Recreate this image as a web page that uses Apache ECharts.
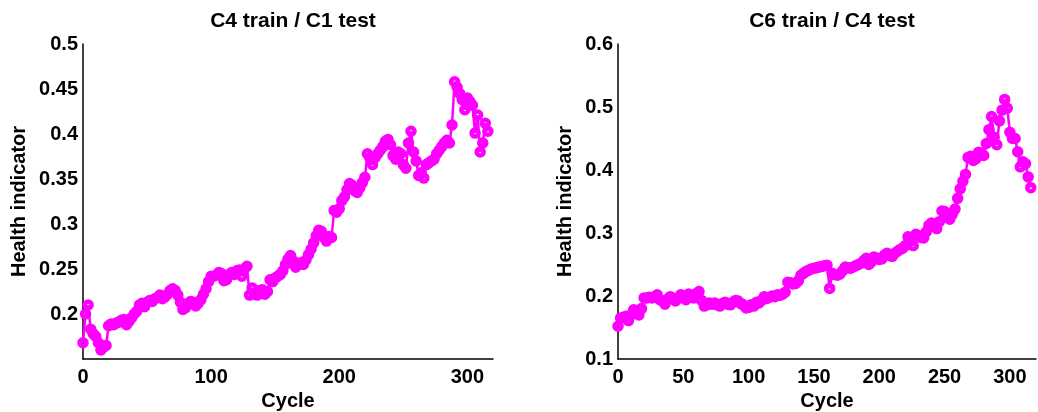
<!DOCTYPE html>
<html>
<head>
<meta charset="utf-8">
<script src="https://cdn.jsdelivr.net/npm/echarts@6/dist/echarts.min.js"></script>
<style>
html,body{margin:0;padding:0;background:#fff;}
#main{width:1038px;height:412px;}
</style>
</head>
<body>
<div id="main"></div>
<script>
var titles = ['C4 train / C1 test', 'C6 train / C4 test'];
var xName = 'Cycle';
var yName = 'Health indicator';
var cycleStep = 2;

// health indicator, one value every 2 cycles
var hiC4C1 = [
	0.168, 0.200, 0.210, 0.183, 0.178, 0.175, 0.168, 0.160, 0.163, 0.165,
	0.187, 0.189, 0.188, 0.190, 0.191, 0.193, 0.194, 0.188, 0.192, 0.196,
	0.200, 0.203, 0.210, 0.212, 0.208, 0.213, 0.215, 0.214, 0.217, 0.218,
	0.221, 0.217, 0.219, 0.222, 0.226, 0.228, 0.226, 0.221, 0.213, 0.205,
	0.207, 0.211, 0.214, 0.213, 0.209, 0.212, 0.216, 0.222, 0.228, 0.236,
	0.242, 0.242, 0.243, 0.246, 0.245, 0.237, 0.238, 0.244, 0.246, 0.244,
	0.248, 0.249, 0.242, 0.250, 0.253, 0.221, 0.229, 0.222, 0.221, 0.226,
	0.227, 0.222, 0.225, 0.238, 0.236, 0.240, 0.242, 0.244, 0.248, 0.255,
	0.261, 0.265, 0.259, 0.252, 0.255, 0.257, 0.255, 0.260, 0.266, 0.272,
	0.279, 0.287, 0.293, 0.292, 0.285, 0.281, 0.286, 0.285, 0.315, 0.313,
	0.317, 0.326, 0.330, 0.338, 0.345, 0.343, 0.337, 0.335, 0.340, 0.346,
	0.352, 0.378, 0.373, 0.366, 0.374, 0.378, 0.382, 0.386, 0.392, 0.394,
	0.388, 0.376, 0.372, 0.380, 0.378, 0.366, 0.362, 0.390, 0.403, 0.380,
	0.370, 0.354, 0.357, 0.351, 0.366, 0.368, 0.370, 0.372, 0.378, 0.382,
	0.386, 0.390, 0.393, 0.390, 0.410, 0.458, 0.452, 0.445, 0.438, 0.427,
	0.440, 0.436, 0.432, 0.401, 0.421, 0.380, 0.390, 0.412, 0.403
];
var hiC6C4 = [
	0.152, 0.165, 0.166, 0.168, 0.161, 0.170, 0.178, 0.174, 0.170, 0.180,
	0.197, 0.197, 0.198, 0.197, 0.199, 0.202, 0.194, 0.192, 0.187, 0.195,
	0.199, 0.196, 0.192, 0.196, 0.202, 0.199, 0.194, 0.203, 0.201, 0.197,
	0.204, 0.207, 0.193, 0.184, 0.186, 0.189, 0.187, 0.189, 0.186, 0.184,
	0.188, 0.190, 0.187, 0.186, 0.190, 0.193, 0.192, 0.188, 0.186, 0.181,
	0.182, 0.186, 0.184, 0.190, 0.189, 0.193, 0.199, 0.196, 0.198, 0.200,
	0.199, 0.202, 0.201, 0.203, 0.206, 0.222, 0.221, 0.219, 0.220, 0.224,
	0.233, 0.236, 0.239, 0.241, 0.243, 0.244, 0.245, 0.246, 0.247, 0.248,
	0.249, 0.212, 0.236, 0.234, 0.233, 0.235, 0.240, 0.246, 0.245, 0.244,
	0.246, 0.248, 0.250, 0.252, 0.256, 0.260, 0.250, 0.254, 0.262, 0.260,
	0.258, 0.259, 0.265, 0.268, 0.264, 0.263, 0.268, 0.271, 0.274, 0.276,
	0.280, 0.294, 0.290, 0.280, 0.298, 0.296, 0.293, 0.292, 0.302, 0.312,
	0.316, 0.312, 0.307, 0.318, 0.335, 0.334, 0.325, 0.322, 0.330, 0.338,
	0.355, 0.370, 0.382, 0.393, 0.420, 0.422, 0.415, 0.418, 0.428, 0.427,
	0.423, 0.442, 0.464, 0.485, 0.452, 0.440, 0.478, 0.495, 0.512, 0.498,
	0.460, 0.450, 0.450, 0.429, 0.405, 0.413, 0.410, 0.389, 0.372
];

var yMin = [0.15, 0.1];
var yMax = [0.5, 0.6];
var yStep = [0.05, 0.1];
var xStep = [100, 50];
var xMax = 320;

var magenta = '#ff00ff';
var fontFam = '"Liberation Sans", Arial, sans-serif';

function buildPoints(values) {
	var pts = [];
	for (var i = 0, len = values.length; i < len; i++) {
		pts.push([i * cycleStep, values[i]]);
	}
	return pts;
}

function axisText() {
	return { fontFamily: fontFam, fontSize: 20, fontWeight: 'bold', color: '#000' };
}

function buildOption() {
	var grids = [
		{ left: 83, right: 545, top: 44, bottom: 53, outerBoundsMode: 'none', containLabel: false },
		{ left: 618, right: 2, top: 44, bottom: 53, outerBoundsMode: 'none', containLabel: false }
	];
	var yGaps = [54, 43];
	var option = {
		animation: false,
		title: [],
		grid: grids,
		xAxis: [],
		yAxis: [],
		series: []
	};
	var allData = [hiC4C1, hiC6C4];
	for (var k = 0; k < 2; k++) {
		option.title.push({
			text: titles[k],
			left: k == 0 ? 288 : 827,
			top: 6,
			textAlign: 'center',
			textStyle: { fontFamily: fontFam, fontSize: 21, fontWeight: 'bold', color: '#000' }
		});
		option.xAxis.push({
			type: 'value',
			gridIndex: k,
			min: 0,
			max: xMax,
			interval: xStep[k],
			name: xName,
			nameLocation: 'middle',
			nameGap: 27,
			nameTextStyle: axisText(),
			axisLine: { show: true, lineStyle: { color: '#000', width: 1.5 } },
			axisTick: { show: false },
			splitLine: { show: false },
			axisLabel: Object.assign(axisText(), { margin: 8, showMaxLabel: false })
		});
		(function (kk) {
			option.yAxis.push({
				type: 'value',
				gridIndex: kk,
				min: yMin[kk],
				max: yMax[kk],
				interval: yStep[kk],
				name: yName,
				nameLocation: 'middle',
				nameGap: yGaps[kk],
				nameTextStyle: axisText(),
				axisLine: { show: true, lineStyle: { color: '#000', width: 1.5 } },
				axisTick: { show: false },
				splitLine: { show: false },
				axisLabel: Object.assign(axisText(), {
					margin: 5,
					formatter: function (v) {
						// first tick of the left panel has no label
						if (kk == 0 && v < 0.16) return '';
						return String(Math.round(v * 100) / 100);
					}
				})
			});
		})(k);
		option.series.push({
			type: 'line',
			xAxisIndex: k,
			yAxisIndex: k,
			data: buildPoints(allData[k]),
			symbol: 'circle',
			symbolSize: 7,
			showAllSymbol: true,
			itemStyle: { color: 'rgba(255,0,255,0)', borderColor: magenta, borderWidth: 4.5 },
			lineStyle: { color: magenta, width: 2.5 },
			emphasis: { disabled: true },
			silent: true
		});
	}
	return option;
}

var chart = echarts.init(document.getElementById('main'), null, { renderer: 'canvas' });
chart.setOption(buildOption());
</script>
</body>
</html>
